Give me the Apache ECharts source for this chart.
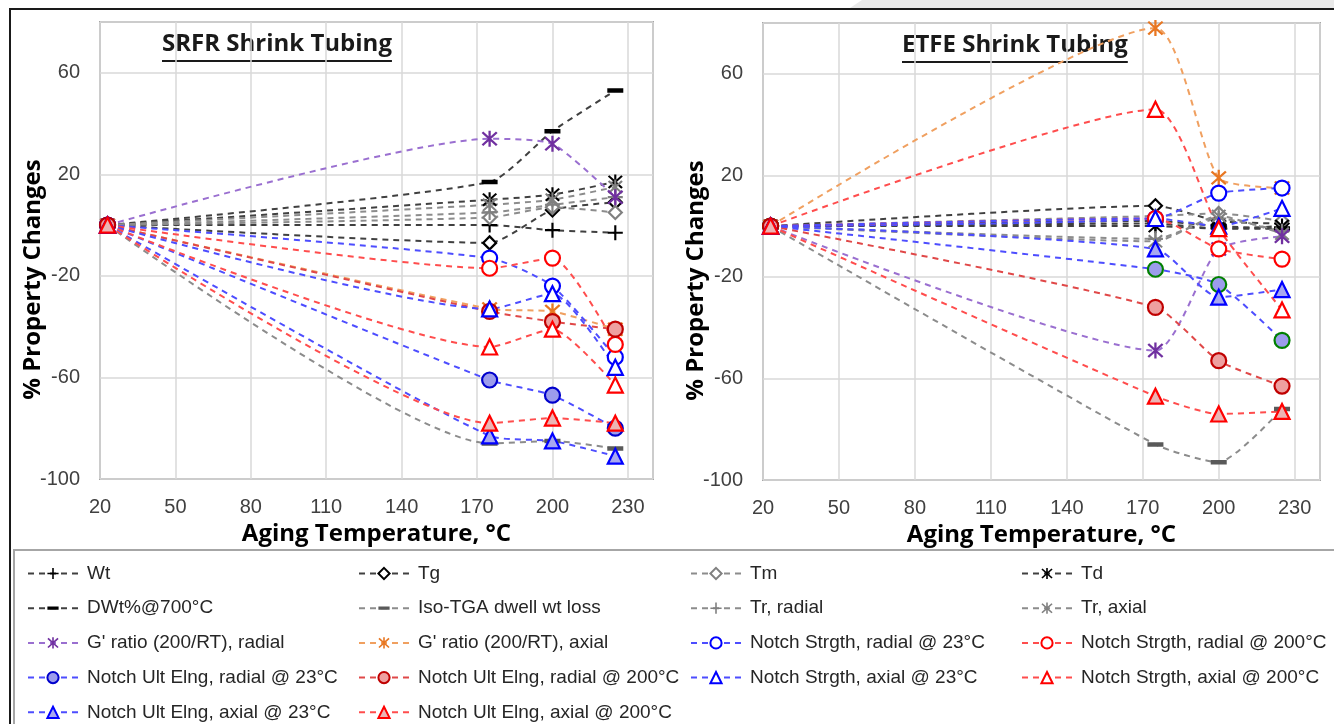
<!DOCTYPE html>
<html>
<head>
<meta charset="utf-8">
<script src="https://cdn.jsdelivr.net/npm/echarts@6/dist/echarts.min.js"></script>
<style>
  html, body { margin: 0; padding: 0; background: #fff; }
  #main { width: 1334px; height: 724px; }
</style>
</head>
<body>
<div id="main"></div>
<script>
  // aging temperatures (RT = 23)
  var temps = [23, 175, 200, 225]

  // SRFR shrink tubing, % change
  var srfrWt = [0, 0, -2, -3]
  var srfrTg = [0, -7, 6, 9]
  var srfrTm = [0, 3, 7, 5]
  var srfrTd = [0, 10, 12, 17]
  var srfrDwt = [0, 17, 37, 53]
  var srfrIso = [0, -86, -85, -88]
  var srfrTrRad = [0, 5, 8, 11]
  var srfrTrAx = [0, 8, 10, 15]
  var srfrGRad = [0, 34, 32, 11]
  var srfrGAx = [0, -33, -34, -41]
  var srfrNsRad23 = [0, -13, -24, -52]
  var srfrNsRad200 = [0, -17, -13, -47]
  var srfrNeRad23 = [0, -61, -67, -80]
  var srfrNeRad200 = [0, -34, -38, -41]
  var srfrNsAx23 = [0, -33, -27, -56]
  var srfrNsAx200 = [0, -48, -41, -63]
  var srfrNeAx23 = [0, -83, -85, -91]
  var srfrNeAx200 = [0, -78, -76, -78]

  // ETFE shrink tubing, % change
  var etfeWt = [0, 1, -1, -1]
  var etfeTg = [0, 8, 2, 1]
  var etfeTm = [0, 4, 5, 2]
  var etfeTd = [0, 0, -1, 0]
  var etfeDwt = [0, 2, 0, -1]
  var etfeIso = [0, -86, -93, -72]
  var etfeTrRad = [0, -5, 3, -2]
  var etfeTrAx = [0, -6, 4, -3]
  var etfeGRad = [0, -49, -9, -4]
  var etfeGAx = [0, 78, 19, 15]
  var etfeNsRad23 = [0, 3, 13, 15]
  var etfeNsRad200 = [0, 3, -9, -13]
  var etfeNeRad23 = [0, -17, -23, -45]
  var etfeNeRad200 = [0, -32, -53, -63]
  var etfeNsAx23 = [0, 3, 0, 7]
  var etfeNsAx200 = [0, 46, -1, -33]
  var etfeNeAx23 = [0, -9, -28, -25]
  var etfeNeAx200 = [0, -67, -74, -73]

  var PLUS = 'path://M-1,-7H1V-1H7V1H1V7H-1V1H-7V-1H-1Z'
  var STAR = 'path://M-6.3,-5L-5,-6.3L6.3,5L5,6.3Z M-6.3,5L5,-6.3L6.3,-5L-5,6.3Z M-0.9,-7H0.9V7H-0.9Z'
  // bar marker; the empty corner moves keep a square box so it is not stretched
  var DASH = 'path://M-7,-7L-7,-7Z M-7,-2H7V2H-7Z M7,7L7,7Z'

  // marker + line styles per property
  var styles = {
    'Wt': { sym: PLUS, size: 15, fill: '#000', border: null, line: '#404040' },
    'Tg': { sym: 'diamond', size: 13, fill: '#fff', border: '#000', line: '#404040' },
    'Tm': { sym: 'diamond', size: 13, fill: '#fff', border: '#808080', line: '#8c8c8c' },
    'Td': { sym: STAR, size: 15, fill: '#000', border: null, line: '#404040' },
    'DWt%@700°C': { sym: DASH, size: 16, fill: '#000', border: null, line: '#404040' },
    'Iso-TGA dwell wt loss': { sym: DASH, size: 16, fill: '#595959', border: null, line: '#8c8c8c' },
    'Tr, radial': { sym: PLUS, size: 15, fill: '#808080', border: null, line: '#8c8c8c' },
    'Tr, axial': { sym: STAR, size: 15, fill: '#808080', border: null, line: '#8c8c8c' },
    "G' ratio (200/RT), radial": { sym: STAR, size: 16, fill: '#7030a0', border: null, line: '#9a6fd0' },
    "G' ratio (200/RT), axial": { sym: STAR, size: 16, fill: '#e87722', border: null, line: '#f0a060' },
    'Notch Strgth, radial @ 23°C': { sym: 'circle', size: 15, fill: '#fff', border: '#0000ff', line: '#4d4dff' },
    'Notch Strgth, radial @ 200°C': { sym: 'circle', size: 15, fill: '#fff', border: '#ff0000', line: '#ff4d4d' },
    'Notch Ult Elng, radial @ 23°C': { sym: 'circle', size: 15, fill: '#9c9cec', border: '#0000cc', line: '#4d4dff' },
    'Notch Ult Elng, radial @ 200°C': { sym: 'circle', size: 15, fill: '#eea0a0', border: '#c00000', line: '#e04848' },
    'Notch Strgth, axial @ 23°C': { sym: 'triangle', size: 15, fill: '#fff', border: '#0000ff', line: '#4d4dff' },
    'Notch Strgth, axial @ 200°C': { sym: 'triangle', size: 15, fill: '#fff', border: '#ff0000', line: '#ff4d4d' },
    'Notch Ult Elng, axial @ 23°C': { sym: 'triangle', size: 15, fill: '#a8a8f0', border: '#0000ff', line: '#4d4dff' },
    'Notch Ult Elng, axial @ 200°C': { sym: 'triangle', size: 15, fill: '#ecb4b4', border: '#ff0000', line: '#ff4d4d' }
  }

  var names = Object.keys(styles)
  var srfr = [srfrWt, srfrTg, srfrTm, srfrTd, srfrDwt, srfrIso, srfrTrRad, srfrTrAx, srfrGRad, srfrGAx,
    srfrNsRad23, srfrNsRad200, srfrNeRad23, srfrNeRad200, srfrNsAx23, srfrNsAx200, srfrNeAx23, srfrNeAx200]
  var etfe = [etfeWt, etfeTg, etfeTm, etfeTd, etfeDwt, etfeIso, etfeTrRad, etfeTrAx, etfeGRad, etfeGAx,
    etfeNsRad23, etfeNsRad200, etfeNeRad23, etfeNeRad200, etfeNsAx23, etfeNsAx200, etfeNeAx23, etfeNeAx200]

  function makeSeries(name, vals, idx, borderOverride) {
    var s = styles[name]
    return {
      name: name,
      type: 'line',
      xAxisIndex: idx,
      yAxisIndex: idx,
      data: temps.map(function (t, i) { return [t, vals[i]] }),
      smooth: 0.2,
      symbol: s.sym,
      symbolSize: s.size,
      itemStyle: {
        color: s.fill,
        borderColor: borderOverride || s.border || s.fill,
        borderWidth: s.border ? 2.2 : 0,
        opacity: 1
      },
      lineStyle: { color: s.line, width: 2, type: [6, 5] },
      emphasis: { disabled: true },
      animation: false
    }
  }

  var series = []
  names.forEach(function (n, i) { series.push(makeSeries(n, srfr[i], 0)) })
  names.forEach(function (n, i) {
    // ETFE radial ult. elongation @23 is drawn with green rims
    series.push(makeSeries(n, etfe[i], 1, n === 'Notch Ult Elng, radial @ 23°C' ? '#008000' : null))
  })

  var tickFont = { fontFamily: 'Liberation Sans', fontSize: 20, color: '#404040' }
  var nameFont = { fontFamily: 'Open Sans', fontWeight: 'bold', fontSize: 24, color: '#000' }
  var titleFont = 'bold 24px "Open Sans"'

  function xAxisCfg(idx) {
    return {
      type: 'value', gridIndex: idx, min: 20, max: 240, interval: 30,
      name: 'Aging Temperature, °C', nameLocation: 'middle', nameGap: 36,
      nameTextStyle: nameFont,
      axisLine: { show: false }, axisTick: { show: false },
      axisLabel: Object.assign({ margin: 18, showMaxLabel: false }, tickFont),
      splitLine: { show: true, lineStyle: { color: '#d9d9d9', width: 1.5 } }
    }
  }
  function yAxisCfg(idx) {
    return {
      type: 'value', gridIndex: idx, min: -100, max: 80, interval: 40,
      name: '% Property Changes', nameLocation: 'middle', nameGap: 55, nameMoveOverlap: false,
      nameTextStyle: Object.assign({ padding: [0, 58, 0, 0] }, nameFont),
      axisLine: { show: false }, axisTick: { show: false },
      axisLabel: Object.assign({ margin: 20, showMaxLabel: false }, tickFont),
      splitLine: { show: true, lineStyle: { color: '#d9d9d9', width: 1.5 } }
    }
  }

  var legendCols = [
    [names[0], names[4], names[8], names[12], names[16]],
    [names[1], names[5], names[9], names[13], names[17]],
    [names[2], names[6], names[10], names[14]],
    [names[3], names[7], names[11], names[15]]
  ]
  var legendX = [27, 358, 690, 1021]
  var legends = legendCols.map(function (col, i) {
    return {
      orient: 'vertical', left: legendX[i], top: 564, height: 300, padding: 0,
      data: col, itemWidth: 50, itemHeight: 14, itemGap: 15.7,
      textStyle: { fontFamily: 'Liberation Sans', fontSize: 19, lineHeight: 19, color: '#262626', padding: [0, 0, 0, 4] },
      selectedMode: false
    }
  })

  // measure title widths for the underline
  var ctx = document.createElement('canvas').getContext('2d')
  ctx.font = titleFont
  function titleGraphic(text, x, y) {
    var w = ctx.measureText(text).width
    return [
      { type: 'text', left: x, top: y, style: { text: text, font: titleFont, fill: '#1a1a1a' } },
      { type: 'line', shape: { x1: x, y1: y + 29, x2: x + w, y2: y + 29 }, style: { stroke: '#1a1a1a', lineWidth: 2 } }
    ]
  }

  var chartDom = document.getElementById('main')
  var myChart = echarts.init(chartDom)
  myChart.setOption({
    backgroundColor: '#fff',
    animation: false,
    grid: [
      { left: 100, top: 22, width: 553, height: 457, show: true, borderColor: '#a6a6a6', borderWidth: 2, backgroundColor: 'transparent' },
      { left: 763, top: 23, width: 557, height: 457, show: true, borderColor: '#a6a6a6', borderWidth: 2, backgroundColor: 'transparent' }
    ],
    xAxis: [xAxisCfg(0), xAxisCfg(1)],
    yAxis: [yAxisCfg(0), yAxisCfg(1)],
    legend: legends,
    graphic: [
      { type: 'polygon', shape: { points: [[862, 0], [1334, 0], [1334, 8], [850, 8]] }, style: { fill: '#e9e9e9' }, z: -1 },
      { type: 'rect', shape: { x: 10, y: 9, width: 1340, height: 740 }, style: { fill: null, stroke: '#1a1a1a', lineWidth: 2 }, z: -1 },
      { type: 'rect', shape: { x: 14, y: 550, width: 1340, height: 190 }, style: { fill: null, stroke: '#a6a6a6', lineWidth: 2 }, z: -1 }
    ].concat(titleGraphic('SRFR Shrink Tubing', 162, 32), titleGraphic('ETFE Shrink Tubing', 902, 33)),
    series: series
  })
</script>
</body>
</html>
